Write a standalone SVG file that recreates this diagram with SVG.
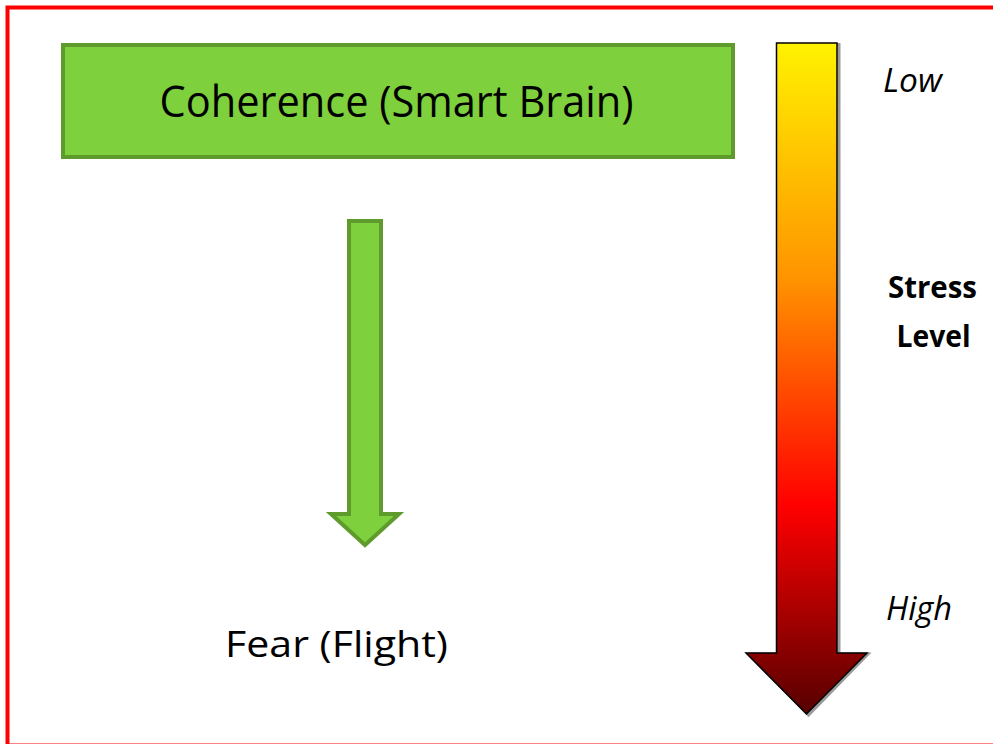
<svg xmlns="http://www.w3.org/2000/svg" width="993" height="744" viewBox="0 0 993 744">
<defs>
<linearGradient id="stressGrad" gradientUnits="userSpaceOnUse" x1="0" y1="43" x2="0" y2="714">
<stop offset="0" stop-color="#fff200"/>
<stop offset="0.35" stop-color="#ff9400"/>
<stop offset="0.69" stop-color="#ff0000"/>
<stop offset="1" stop-color="#560000"/>
</linearGradient>
<style>
.lbl{font-family:"Open Sans","Noto Sans","Liberation Sans",sans-serif;fill:#000;}
.green{fill:#7ed03c;stroke:#5e9a2c;stroke-width:4;}
</style>
</defs>
<rect x="0" y="0" width="993" height="744" fill="#ffffff"/>
<rect id="frame" x="7.5" y="7.5" width="1000" height="738" fill="none" stroke="#ff0000" stroke-width="4"/>
<g id="node-coherence">
<rect class="green" x="63" y="45" width="670" height="112"/>
<text class="lbl" x="396.5" y="117" font-size="44" text-anchor="middle" textLength="474" lengthAdjust="spacingAndGlyphs">Coherence (Smart Brain)</text>
</g>
<g id="node-fear">
<text class="lbl" x="336.5" y="657" font-size="37" text-anchor="middle" textLength="223" lengthAdjust="spacingAndGlyphs">Fear (Flight)</text>
</g>
<g id="connectors">
<path class="green" d="M349,221 H381 V514 H399 L365,545 L331,514 H349 Z"/>
</g>
<g id="stress-scale">
<path d="M777,43.5 H838 V653 H867 L807.5,714 L748,653 H777 Z" fill="none" stroke="#9a9a9a" stroke-width="3" transform="translate(1,1)"/>
<path d="M776.5,43 H837 V653 H867 L806.5,714 L746,653 H776.5 Z" fill="url(#stressGrad)" stroke="#000" stroke-width="1.5" stroke-linejoin="miter"/>
<text class="lbl" x="883" y="92" font-size="33" font-style="italic" textLength="59" lengthAdjust="spacingAndGlyphs">Low</text>
<text class="lbl" x="932.5" y="298" font-size="30" font-weight="bold" text-anchor="middle" textLength="89" lengthAdjust="spacingAndGlyphs">Stress</text>
<text class="lbl" x="933.5" y="347" font-size="30" font-weight="bold" text-anchor="middle" textLength="74" lengthAdjust="spacingAndGlyphs">Level</text>
<text class="lbl" x="886" y="620" font-size="32" font-style="italic" textLength="66" lengthAdjust="spacingAndGlyphs">High</text>
</g>
</svg>
